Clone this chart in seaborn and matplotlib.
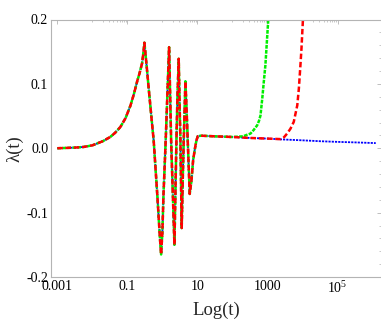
import numpy as np
import pandas as pd
import matplotlib
matplotlib.use("Agg")
import matplotlib.pyplot as plt
import matplotlib.ticker as mticker
import seaborn as sns

# log10(t) and lambda(t) of the shared part of the three curves
log_t_common = [-3.0, -2.5, -2.25, -2.0, -1.87, -1.7, -1.49, -1.35, -1.2, -1.05,
                -0.914, -0.82, -0.72, -0.65, -0.58, -0.54, -0.514,
                -0.45, -0.386, -0.32, -0.249, -0.143, -0.07, -0.037,
                0.0, 0.029, 0.094, 0.143, 0.191,
                0.22, 0.249, 0.297, 0.343,
                0.4, 0.43, 0.466, 0.49, 0.514, 0.551,
                0.58, 0.609, 0.657, 0.69, 0.723, 0.78,
                0.83, 0.877, 0.93, 0.971, 1.009, 1.1, 1.3, 1.5, 2.0]
lam_common = [0.0, 0.001, 0.002, 0.0045, 0.0073, 0.011, 0.0175, 0.024, 0.033, 0.047,
              0.066, 0.083, 0.104, 0.117, 0.132, 0.149, 0.164,
              0.128, 0.090, 0.052, 0.012, -0.075, -0.14, -0.165,
              -0.13, -0.075, 0.012, 0.085, 0.157,
              0.085, 0.012, -0.07, -0.150,
              0.012, 0.08, 0.139, 0.07, 0.012, -0.124,
              -0.05, 0.012, 0.104, 0.06, 0.012, -0.071,
              -0.05, -0.0186, 0.0, 0.012, 0.0186, 0.0195, 0.019, 0.0185, 0.0175]

# tails where the three curves separate
log_t_blue = [2.5, 3.0, 3.457, 4.0, 4.51, 5.0, 5.5, 6.09]
lam_blue = [0.016, 0.015, 0.0136, 0.0123, 0.0109, 0.0099, 0.0091, 0.0080]

log_t_green = [2.3, 2.42, 2.514, 2.6, 2.706, 2.76, 2.8, 2.85, 2.894, 2.94, 2.97, 3.02, 3.05]
lam_green = [0.0185, 0.021, 0.0228, 0.028, 0.0357, 0.043, 0.051, 0.077, 0.103, 0.129, 0.155, 0.198, 0.23]

log_t_red = [2.5, 3.0, 3.37, 3.47, 3.56, 3.657, 3.75, 3.85, 3.895, 3.94, 3.97, 4.01, 4.04]
lam_red = [0.016, 0.015, 0.0142, 0.017, 0.0228, 0.0305, 0.041, 0.0667, 0.0926, 0.129, 0.155, 0.198, 0.23]

x_ticks = [1e-3, 1e-1, 1e1, 1e3, 1e5]
x_ticklabels = ["0.001", "0.1", "10", "1000", r"$\mathregular{10^{5}}$"]
y_ticks = [-0.2, -0.1, 0.0, 0.1, 0.2]


def build(log_tail, lam_tail):
    lt = np.array(log_t_common + log_tail)
    df = pd.DataFrame({"t": 10.0 ** lt, "lam": lam_common + lam_tail})
    return df


sns.set_style("white")
plt.rcParams["font.family"] = ["Liberation Serif", "DejaVu Serif"]
plt.rcParams["mathtext.fontset"] = "custom"
plt.rcParams["mathtext.rm"] = "Liberation Serif"

fig = plt.figure(figsize=(3.81, 3.27), dpi=100)
ax = fig.add_axes([51 / 381, 50 / 327, 330 / 381, 257.5 / 327])

sns.lineplot(data=build(log_t_blue, lam_blue), x="t", y="lam", ax=ax, color="#0000ff",
             linewidth=1.3, linestyle=(0, (1.2, 0.6)), estimator=None, sort=False)
sns.lineplot(data=build(log_t_green, lam_green), x="t", y="lam", ax=ax, color="#00ee00",
             linewidth=1.8, linestyle=(0, (1.5, 0.5)), estimator=None, sort=False)
sns.lineplot(data=build(log_t_red, lam_red), x="t", y="lam", ax=ax, color="#ff0000",
             linewidth=1.8, linestyle=(0, (2.2, 1.1)), estimator=None, sort=False)

ax.set_xscale("log")
ax.set_xlim(10 ** -3.18, 10 ** 6.24)
ax.set_ylim(-0.2, 0.2)

ax.set_xticks(x_ticks)
ax.set_xticklabels(x_ticklabels)
minor_x = [k * 10.0 ** n for n in (-2, 0, 2, 4) for k in range(1, 10)]
ax.xaxis.set_minor_locator(mticker.FixedLocator(minor_x))
ax.xaxis.set_minor_formatter(mticker.NullFormatter())
ax.set_yticks(y_ticks)
ax.yaxis.set_major_formatter(mticker.FormatStrFormatter("%.1f"))
ax.yaxis.set_minor_locator(mticker.MultipleLocator(0.02))

gray = "#b4b4b4"
for side in ["left", "bottom", "top"]:
    ax.spines[side].set_color(gray)
    ax.spines[side].set_linewidth(0.8)
ax.spines["right"].set_visible(False)

ax.tick_params(which="both", direction="in", color=gray, top=True, right=True,
               labelsize=10, labelcolor="black", pad=2)
ax.tick_params(which="major", length=3, width=0.6)
ax.tick_params(which="minor", length=1.6, width=0.5)

ax.set_xlabel("Log(t)", fontsize=13.5, labelpad=4)
ax.set_ylabel("λ(t)", fontsize=13.5, labelpad=2)

fig.savefig("out.png", dpi=100)
